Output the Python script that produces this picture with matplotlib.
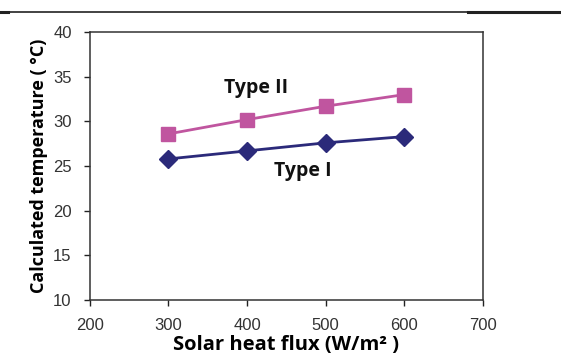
import matplotlib.pyplot as plt

flux = [300, 400, 500, 600]
type_1 = [25.8, 26.7, 27.6, 28.3]
type_2 = [28.6, 30.2, 31.7, 33.0]
x_ticks = [200, 300, 400, 500, 600, 700]
y_ticks = [10, 15, 20, 25, 30, 35, 40]

fig = plt.figure(figsize=(5.61, 3.56), dpi=100)
ax = fig.add_axes([0.160, 0.157, 0.701, 0.753])

ax.plot(flux, type_1, color='#2b2a7a', marker='D', markersize=9, lw=2)
ax.plot(flux, type_2, color='#c0559f', marker='s', markersize=10, lw=2)

ax.text(412, 33.7, 'Type II', fontsize=14, fontweight='bold', family='Open Sans', ha='center', va='center', color='#111111')
ax.text(471, 24.5, 'Type I', fontsize=14, fontweight='bold', family='Open Sans', ha='center', va='center', color='#111111')

ax.set_xlim(200, 700)
ax.set_ylim(10, 40)
ax.set_xticks(x_ticks)
ax.set_yticks(y_ticks)
ax.tick_params(direction='out', length=4, width=1, labelsize=12, colors='#222222', labelcolor='#333333')
ax.tick_params(axis='y', pad=9)
ax.tick_params(axis='x', pad=9)
for lab in ax.get_xticklabels() + ax.get_yticklabels():
    lab.set_family('Liberation Sans')
for s in ax.spines.values():
    s.set_color('#333333')
    s.set_linewidth(1.1)

ax.set_xlabel('Solar heat flux (W/m² )', fontsize=14.5, fontweight='bold', family='Open Sans', labelpad=1)
ax.set_ylabel('Calculated temperature ( °C)', fontsize=13, fontweight='bold', family='Open Sans', labelpad=4)

# rule across the top of the page
fig.add_artist(plt.Line2D([0, 1], [0.966, 0.966], color='#222222', lw=1.2))
fig.add_artist(plt.Line2D([0, 0.015], [0.966, 0.966], color='#222222', lw=2.2))
fig.add_artist(plt.Line2D([0.835, 1], [0.966, 0.966], color='#222222', lw=2.2))

fig.savefig('out.png', dpi=100)
